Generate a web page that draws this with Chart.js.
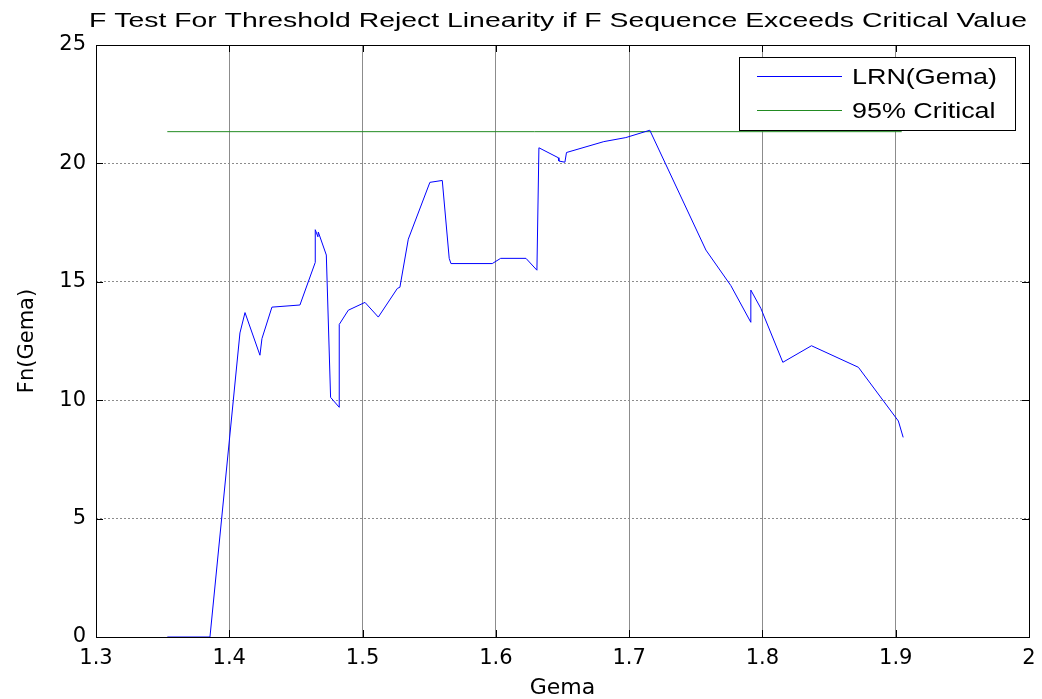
<!DOCTYPE html>
<html lang="en">
<head>
  <meta charset="UTF-8">
  <title>F Test For Threshold</title>
  <script src="https://cdn.jsdelivr.net/npm/chart.js"></script>
  <style>
    body { margin: 0; background: #fff; }
  </style>
</head>
<body>
  <canvas id="fChart" width="1042" height="699"></canvas>

  <script>
    // data
    const gemaX = [1.3535, 1.3855, 1.408, 1.4118, 1.423, 1.4245, 1.432, 1.453, 1.4645, 1.4645, 1.4665, 1.4668,
      1.4728, 1.476, 1.4825, 1.4825, 1.4893, 1.5018, 1.5118, 1.5261, 1.528, 1.5343, 1.5505, 1.5598, 1.565,
      1.5663, 1.5973, 1.6036, 1.6226, 1.6308, 1.6323, 1.6468, 1.6473, 1.6518, 1.653, 1.681, 1.6975, 1.7155,
      1.7576, 1.7763, 1.7913, 1.7913, 1.7988, 1.8153, 1.8368, 1.872, 1.902, 1.9056];
    const lrnY = [0, 0, 12.84, 13.7, 11.9, 12.6, 13.93, 14.02, 15.82, 17.2, 16.9, 17.1,
      16.13, 10.12, 9.7, 13.2, 13.8, 14.13, 13.51, 14.72, 14.77, 16.8, 19.2, 19.28, 15.99,
      15.77, 15.77, 15.99, 15.99, 15.49, 20.66, 20.24, 20.1, 20.05, 20.46, 20.92, 21.09, 21.4,
      16.34, 14.84, 13.29, 14.65, 13.88, 11.6, 12.3, 11.39, 9.12, 8.43];
    const critX = [1.3535, 1.9045];
    const critY = [21.34, 21.34];
    const xTicks = [1.3, 1.4, 1.5, 1.6, 1.7, 1.8, 1.9, 2];
    const yTicks = [0, 5, 10, 15, 20, 25];

    const FONT = 'Liberation Sans, Arial, sans-serif';
    const WIDE = 'DejaVu Sans, sans-serif';
    const TITLE = 'F Test For Threshold Reject Linearity if F Sequence Exceeds Critical Value';

    const toPoints = (xs, ys) => xs.map((x, i) => ({ x: x, y: ys[i] }));

    // the figure was stretched sideways, so squeeze text into a given width
    function fitText(ctx, txt, x, y, w) {
      const m = ctx.measureText(txt).width;
      ctx.save();
      ctx.translate(x, y);
      ctx.scale(w / m, 1);
      ctx.fillText(txt, 0, 0);
      ctx.restore();
    }

    // axes box, inward ticks, title and legend box like the matlab figure
    const matlabBits = {
      id: 'matlabBits',
      afterDraw(chart) {
        const ctx = chart.ctx;
        const a = chart.chartArea;
        const xs = chart.scales.x;
        const ys = chart.scales.y;
        ctx.save();
        ctx.strokeStyle = '#000';
        ctx.lineWidth = 1;
        ctx.strokeRect(Math.round(a.left) + 0.5, Math.round(a.top) + 0.5,
          Math.round(a.right - a.left), Math.round(a.bottom - a.top));

        ctx.beginPath();
        xTicks.forEach(v => {
          const px = Math.round(xs.getPixelForValue(v)) + 0.5;
          ctx.moveTo(px, a.bottom); ctx.lineTo(px, a.bottom - 7);
          ctx.moveTo(px, a.top); ctx.lineTo(px, a.top + 7);
        });
        yTicks.forEach(v => {
          const py = Math.round(ys.getPixelForValue(v)) + 0.5;
          ctx.moveTo(a.left, py); ctx.lineTo(a.left + 7, py);
          ctx.moveTo(a.right, py); ctx.lineTo(a.right - 7, py);
        });
        ctx.stroke();

        // title
        ctx.fillStyle = '#000';
        ctx.font = '20px ' + FONT;
        ctx.textAlign = 'left';
        ctx.textBaseline = 'alphabetic';
        fitText(ctx, TITLE, 89, 27, 938);

        // legend
        const lx = 739, ly = 57, lw = 276, lh = 73;
        ctx.fillStyle = '#fff';
        ctx.fillRect(lx, ly, lw, lh);
        ctx.strokeStyle = '#000';
        ctx.strokeRect(lx + 0.5, ly + 0.5, lw, lh);
        ctx.font = '22px ' + FONT;
        const unit = 145 / ctx.measureText('LRN(Gema)').width;
        chart.data.datasets.forEach((ds, i) => {
          const cy = ly + 19 + i * 34;
          ctx.strokeStyle = ds.borderColor;
          ctx.beginPath();
          ctx.moveTo(757, cy + 0.5); ctx.lineTo(842, cy + 0.5);
          ctx.stroke();
          ctx.fillStyle = '#000';
          fitText(ctx, ds.label, 852, cy + 8, ctx.measureText(ds.label).width * unit);
        });
        ctx.restore();
      }
    };

    new Chart(document.getElementById('fChart'), {
      type: 'scatter',
      data: {
        datasets: [
          {
            label: 'LRN(Gema)',
            data: toPoints(gemaX, lrnY),
            showLine: true,
            borderColor: '#0000ff',
            borderWidth: 1,
            pointRadius: 0,
            tension: 0
          },
          {
            label: '95% Critical',
            data: toPoints(critX, critY),
            showLine: true,
            borderColor: '#228b22',
            borderWidth: 1,
            pointRadius: 0
          }
        ]
      },
      options: {
        responsive: false,
        animation: false,
        layout: { padding: { top: 45, right: 13, left: 0, bottom: 0 } },
        plugins: {
          legend: { display: false },
          tooltip: { enabled: false }
        },
        scales: {
          x: {
            type: 'linear',
            min: 1.3,
            max: 2,
            afterFit: s => { s.height = 62; s.paddingLeft = 0; s.paddingRight = 0; },
            afterBuildTicks: s => { s.ticks = xTicks.map(v => ({ value: v })); },
            ticks: {
              color: '#000',
              padding: 9,
              font: { family: WIDE, size: 21 },
              callback: v => String(Number(v.toFixed(1)))
            },
            grid: { color: '#8c8c8c', drawTicks: false },
            border: { display: false },
            title: {
              display: true,
              text: 'Gema',
              color: '#000',
              font: { family: WIDE, size: 22 },
              padding: { top: 0, bottom: -2 }
            }
          },
          y: {
            min: 0,
            max: 25,
            afterFit: s => { s.width = 96; s.paddingTop = 0; s.paddingBottom = 0; },
            afterBuildTicks: s => { s.ticks = yTicks.map(v => ({ value: v })); },
            ticks: {
              color: '#000',
              padding: 10,
              font: { family: WIDE, size: 21 }
            },
            grid: { color: '#8c8c8c', drawTicks: false },
            border: { display: false, dash: [2, 2] },
            title: {
              display: true,
              text: 'Fn(Gema)',
              color: '#000',
              font: { family: WIDE, size: 21 },
              padding: { top: 15, bottom: 0 }
            }
          }
        }
      },
      plugins: [matlabBits]
    });
  </script>
</body>
</html>
